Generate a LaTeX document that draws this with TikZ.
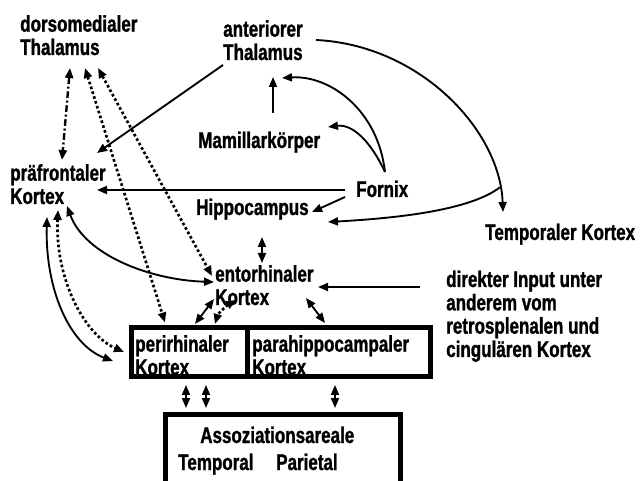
\documentclass[tikz,border=0pt]{standalone}
\usepackage{fontspec}
\newfontfamily\lblfont{Liberation Sans Bold}[FakeStretch=0.75,FakeBold=1.2]
\usetikzlibrary{calc,arrows.meta}
\tikzset{
  lbl/.style={font=\lblfont\fontsize{17}{17.5}\selectfont, inner sep=0pt, anchor=base west, align=left},
  box/.style={draw, line width=3.75pt, inner sep=0pt, outer sep=0pt, minimum height=36.75pt},
  link/.style={line width=1.4pt},
  dotlink/.style={line width=2pt, dash pattern=on 2pt off 1.8pt},
  dashdotlink/.style={line width=1.8pt, dash pattern=on 5pt off 2pt on 1.5pt off 2pt}
}

\begin{document}
\begin{tikzpicture}[x=0.75pt, y=-0.75pt, >={Triangle[length=7.5pt,width=6pt]}]
		%%%%% START %%%%%
		\useasboundingbox (0,0) rectangle (640,481);
		
		\node[lbl] (dmt) at (20,55) {dorsomedialer\\Thalamus};
		\node[lbl] (at) at (223,60) {anteriorer\\Thalamus};
		\node[lbl] (mam) at (198,148) {Mamillarkörper};
		\node[lbl] (pfk) at (10,204) {präfrontaler\\Kortex};
		\node[lbl] (fx) at (356,197) {Fornix};
		\node[lbl] (hip) at (196,215) {Hippocampus};
		\node[lbl] (tk) at (485,240) {Temporaler Kortex};
		\node[lbl] (ek) at (215,305) {entorhinaler\\Kortex};
		\node[lbl] (inp) at (446,357) {direkter Input unter\\anderem vom\\retrosplenalen und\\cingulären Kortex};
		\node[lbl] (peritxt) at (135,375) {perirhinaler\\Kortex};
		\node[lbl] (paratxt) at (252,375) {parahippocampaler\\Kortex};
		\node[lbl] (assotxt) at (200,443) {Assoziationsareale};
		\node[lbl] (temptxt) at (178,470) {Temporal};
		\node[lbl] (partxt) at (276,470) {Parietal};
		
		% boxes
		\node[box, minimum width=87pt] (peri) at (189.5,352) {};
		\node[box, minimum width=137.25pt] (para) at (339,352) {};
		\node[box, minimum width=176.25pt, minimum height=64.1pt] (asso) at (283,457.25) {};
		
		% thalamus
		\draw[dashdotlink, <->] ($(dmt.base west)+(50,13)$) -- ($(pfk.base west)+(52,-44)$);
		\draw[dotlink, <->] ($(dmt.base west)+(65,13)$) -- ($(peri.north west)+(33.5,-5)$);
		\draw[dotlink, <->] ($(dmt.base west)+(78,13)$) -- ($(ek.base west)+(-3,-29)$);
		\draw[link, ->] ($(at.base west)+(0,5)$) -- ($(pfk.base west)+(87,-51)$);
		\draw[link, ->] ($(mam.base west)+(75,-35)$) -- ($(at.base west)+(50,17)$);
		\draw[link, ->] (at.base west) ++(93,-20) .. controls (420,45) and (500,130) .. coordinate[pos=0.9] (arcbr) ($(tk.base west)+(18,-28)$);
		\draw[link, ->] (arcbr) .. controls (470,210) and (400,218) .. ($(hip.base west)+(132,7)$);
		
		% fornix
		\draw[link, ->] ($(fx.base west)+(29,-25)$) .. controls (378,110) and (330,75) .. ($(at.base west)+(59,18)$);
		\draw[link, ->] ($(fx.base west)+(29,-25)$) .. controls (370,140) and (352,124) .. ($(mam.base west)+(130,-21)$);
		\draw[link, ->] ($(fx.base west)+(-11,-7)$) -- ($(pfk.base west)+(87,-14)$);
		\draw[link, ->] ($(fx.base west)+(-11,0)$) -- ($(hip.base west)+(116,-3)$);
		
		% entorhinal
		\draw[link, <->] ($(hip.base west)+(66,22)$) -- ($(ek.base west)+(47,-42)$);
		\draw[link, ->] ($(inp.base west)+(-26,-70)$) -- ($(ek.base west)+(103,-18)$);
		\draw[link, <->] ($(ek.base west)+(91,-7)$) -- ($(para.north west)+(77.5,-4.5)$);
		\draw[link, <->] ($(ek.base west)+(-1,-6)$) -- ($(peri.north west)+(63.5,-3.5)$);
		\draw[dotlink, <->] ($(ek.base west)+(21,-5)$) .. controls (226,306) and (218,314) .. ($(peri.north west)+(83.5,-3.5)$);
		
		% praefrontal
		\draw[link, <->] ($(pfk.base west)+(57,2)$) .. controls (85,255) and (150,280) .. ($(ek.base west)+(-1,-23)$);
		\draw[link, <->] ($(pfk.base west)+(37,13)$) .. controls (45,290) and (70,345) .. ($(peri.north west)+(-18.5,33.5)$);
		\draw[dotlink, <->] ($(pfk.base west)+(48,6)$) .. controls (55,280) and (85,335) .. ($(peri.north west)+(-7.5,24.5)$);
		
		% association areas
		\draw[link, <->] ($(peri.south west)+(54.5,8.5)$) -- ($(asso.north west)+(20.5,-6.5)$);
		\draw[link, <->] ($(peri.south west)+(74.5,8.5)$) -- ($(asso.north west)+(40.5,-6.5)$);
		\draw[link, <->] ($(para.south west)+(87.5,8.5)$) -- ($(asso.north west)+(169.5,-6.5)$);
		%%%%% END %%%%%
\end{tikzpicture}
\end{document}
